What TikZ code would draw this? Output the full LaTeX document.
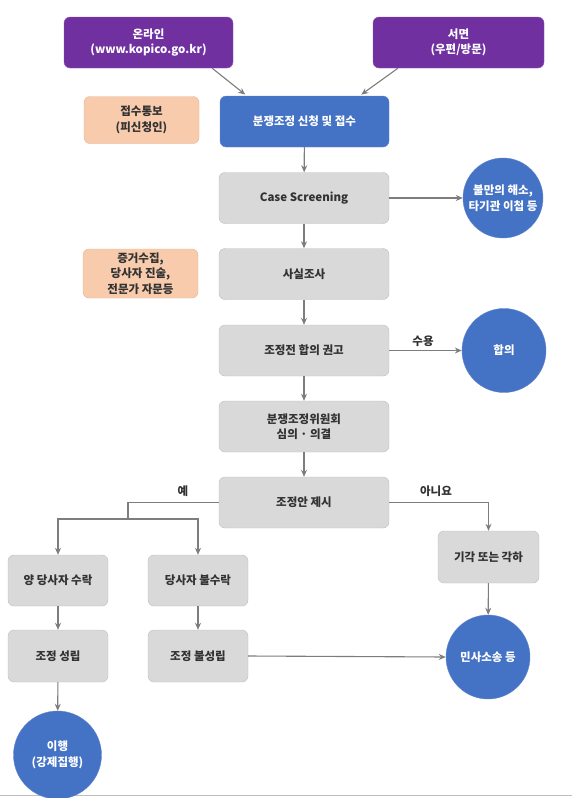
\documentclass[tikz,border=0pt]{standalone}
\usepackage{fontspec}
\setmainfont{Noto Sans CJK KR}
\usetikzlibrary{arrows.meta}
\definecolor{kpurple}{RGB}{112,48,160}
\definecolor{kblue}{RGB}{68,114,196}
\definecolor{kgray}{RGB}{217,217,217}
\definecolor{kedge}{RGB}{190,190,190}
\definecolor{kpeach}{RGB}{248,203,173}
\definecolor{kpeachedge}{RGB}{230,180,150}
\definecolor{karrow}{RGB}{125,125,125}
\definecolor{ktext}{RGB}{50,50,50}

\tikzset{
  box/.style={draw=kedge, fill=kgray, rounded corners=6pt, inner sep=0pt,
    minimum width=170pt, minimum height=51pt, align=center, text=ktext,
    font=\bfseries\fontsize{11.5}{15.5}\selectfont},
  inbox/.style={box, draw=kpurple!80!white, fill=kpurple, text=white},
  sidebox/.style={box, draw=kpeachedge, fill=kpeach, minimum width=115pt, minimum height=47pt},
  endcirc/.style={circle, draw=kblue!85!white, fill=kblue, text=white, inner sep=0pt,
    align=center, font=\bfseries\fontsize{11.5}{15.5}\selectfont},
  flow/.style={->, karrow, line width=1.1pt},
  lbl/.style={font=\bfseries\fontsize{11.5}{13}\selectfont, text=ktext},
  >={Stealth[length=7pt,width=6pt]}
}

\begin{document}
\begin{tikzpicture}[x=1pt,y=-1pt]
\useasboundingbox (0,0) rectangle (572,798);

% bottom rule
\draw[kedge, line width=1pt] (0,795) -- (572,795);

% intake
\node[inbox, minimum width=169pt] (online) at (148.5,42.5) {온라인\\(www.kopico.go.kr)};
\node[inbox, minimum width=171pt] (written) at (458.5,42.5) {서면\\(우편/방문)};
\node[box, draw=kblue!85!white, fill=kblue, text=white, minimum width=169pt] (apply) at (304.5,121.5) {분쟁조정 신청 및 접수};
\node[sidebox] (notice) at (141.5,120) {접수통보\\(피신청인)};

% main column
\node[box] (screen) at (304,198) {Case Screening};
\node[box] (fact) at (304,274) {사실조사};
\node[sidebox, minimum height=49pt] (evid) at (140.5,273.5) {증거수집,\\당사자 진술,\\전문가 자문등};
\node[box] (advise) at (304,350.5) {조정전 합의 권고};
\node[box] (commit) at (304,426.5) {분쟁조정위원회\\심의 · 의결};
\node[box] (propose) at (304,502.5) {조정안 제시};

% outcomes
\node[endcirc, minimum size=80pt] (relief) at (503,198) {불만의 해소,\\타기관 이첩 등};
\node[endcirc, minimum size=84pt] (agree) at (504,350.5) {합의};
\node[box, minimum width=101pt, minimum height=52pt] (reject) at (488.5,557) {기각 또는 각하};
\node[box, minimum width=100pt] (accept) at (58,580.5) {양 당사자 수락};
\node[box, minimum width=100pt] (refuse) at (198,580.5) {당사자 불수락};
\node[box, minimum width=100pt, minimum height=52pt] (settle) at (58,656) {조정 성립};
\node[box, minimum width=100pt, minimum height=52pt] (fail) at (198,656) {조정 불성립};
\node[endcirc, minimum size=84pt] (suit) at (488,657) {민사소송 등};
\node[endcirc, minimum size=88pt] (exec) at (57.5,755) {이행\\(강제집행)};

% connectors
\draw[flow, shorten >=2pt] (online.-22.5) -- (apply.156);
\draw[flow, shorten >=2pt] (written.-157) -- (apply.25);
\foreach \a/\b in {apply/screen, screen/fact, fact/advise, advise/commit, commit/propose,
  accept/settle, refuse/fail, settle/exec, reject/suit}{
  \draw[flow] (\a) -- (\b);
}
\draw[flow] (screen.east) -- (relief.west);
\draw[flow] (advise.east) -- (agree.west);
\node[lbl] (take) at (423,341) {수용};
\draw[flow] (fail.east) -- (suit.west);

% yes / no split
\coordinate (split) at (128,519);
\draw[karrow, line width=1.1pt] (propose.west) -| (split);
\draw[flow] (split) -| (accept.north);
\draw[flow] (split) -| (refuse.north);
\node[lbl] (yes) at (183,491) {예};
\draw[flow] (propose.east) -| (reject.north);
\node[lbl] (no) at (436,491) {아니요};

\end{tikzpicture}
\end{document}
